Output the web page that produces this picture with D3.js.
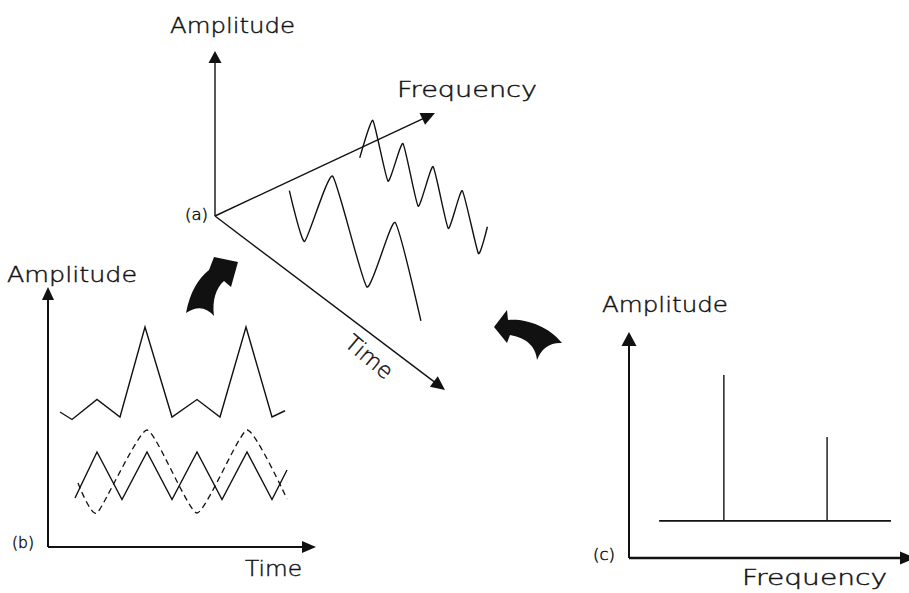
<!DOCTYPE html>
<html><head><meta charset="utf-8">
<script src="https://cdn.jsdelivr.net/npm/d3@7"></script>
<style>html,body{margin:0;padding:0;background:#fff;} svg{display:block}</style>
</head><body><svg id="chart" width="909" height="593"></svg>
<script>
// ================= DATA =================
// Panel (a): 3-D view (frequency / time / amplitude, axis units 0..10)
const aFrontFreq = 3.15;
const aFrontTime = [0.22, 0.88, 2.10, 3.59, 4.81, 5.94];
const aFrontAmp  = [-0.19, -2.57, 2.65, -2.46, 2.70, -2.05];
const aBackFreq  = 7.07;
const aBackTime  = [-0.47, 0.10, 0.76, 1.41, 2.07, 2.72, 3.38, 3.99, 4.69, 5.08];
const aBackAmp   = [-1.38, 1.48, -1.49, 1.46, -1.63, 1.44, -1.59, 1.32, -1.73, 0.29];

// Panel (b): time domain (time 0..10, amplitude 0..100)
const bSumTime  = [0.52, 1.0, 2.0, 2.92, 3.92, 5.0, 6.0, 6.92, 7.96, 9.0, 9.52];
const bSumAmp   = [54, 51, 59, 52, 88, 52, 59, 52, 88, 52, 54.5];
const bHighTime = [1.12, 2, 3, 4, 5, 6, 7, 8, 9, 9.6];
const bHighAmp  = [19.6, 38, 19, 38, 19, 38, 19, 38, 19, 30.8];
const bLowTime  = [1.24, 2, 4, 6, 8, 9.6];
const bLowAmp   = [25.6, 13.6, 46.8, 13.6, 46.8, 19.2];

// Panel (c): frequency domain (frequency 0..10, amplitude 0..10)
const cFreqs      = [3.4, 7.1];
const cAmps       = [8.1, 5.35];
const cFloor      = 1.64;
const cFloorRange = [1.08, 9.39];

// Labels
const panelTags  = ["(a)", "(b)", "(c)"];
const axisTitles = ["Amplitude", "Frequency", "Time"];

// ================= DRAWING =================
const svg = d3.select("#chart");
const ink = "#111";
const font = "'DejaVu Sans ExtraLight', 'DejaVu Sans', sans-serif";

function arrowHead(x1, y1, x2, y2, len, wid) {
  const dx = x2 - x1, dy = y2 - y1, L = Math.hypot(dx, dy);
  const ux = dx / L, uy = dy / L, px = -uy, py = ux;
  const bx = x2 - ux * len, by = y2 - uy * len;
  return `M${x2},${y2}L${bx + px * wid / 2},${by + py * wid / 2}L${bx - px * wid / 2},${by - py * wid / 2}Z`;
}
function arrow(x1, y1, x2, y2, len, wid, sw) {
  const dx = x2 - x1, dy = y2 - y1, L = Math.hypot(dx, dy);
  svg.append("line").attr("x1", x1).attr("y1", y1)
    .attr("x2", x2 - dx / L * len * 0.6).attr("y2", y2 - dy / L * len * 0.6)
    .attr("stroke", ink).attr("stroke-width", sw);
  svg.append("path").attr("d", arrowHead(x1, y1, x2, y2, len, wid)).attr("fill", ink);
}
function label(txt, x, y, w, size, extra) {
  const t = svg.append("text").attr("x", x).attr("y", y).text(txt)
    .attr("font-family", font).attr("font-weight", 200)
    .attr("font-size", size).attr("fill", ink)
    .attr("stroke", ink).attr("stroke-width", 0.45);
  if (w) t.attr("textLength", w).attr("lengthAdjust", "spacingAndGlyphs");
  if (extra) extra(t);
  return t;
}

// ---------- Panel (a) ----------
const O = {x: 215, y: 216};
const ampTipA = {x: 215, y: 51}, freqTipA = {x: 435, y: 113}, timeTipA = {x: 445, y: 390};
const fX = d3.scaleLinear().domain([0, 10]).range([0, freqTipA.x - O.x]);
const fY = d3.scaleLinear().domain([0, 10]).range([0, freqTipA.y - O.y]);
const tX = d3.scaleLinear().domain([0, 10]).range([0, timeTipA.x - O.x]);
const tY = d3.scaleLinear().domain([0, 10]).range([0, timeTipA.y - O.y]);
const aY = d3.scaleLinear().domain([0, 10]).range([0, -166]);
const proj = (f, t, a) => [O.x + fX(f) + tX(t), O.y + fY(f) + tY(t) + aY(a)];

arrow(O.x, O.y, ampTipA.x, ampTipA.y, 12, 13, 1.4);
arrow(O.x, O.y, freqTipA.x, freqTipA.y, 14, 13, 1.4);
arrow(O.x, O.y, timeTipA.x, timeTipA.y, 14, 13, 1.4);

const waveA = d3.line().curve(d3.curveCardinal.tension(0.55));
svg.append("path")
  .attr("d", waveA(aBackTime.map((t, i) => proj(aBackFreq, t, aBackAmp[i]))))
  .attr("fill", "none").attr("stroke", ink).attr("stroke-width", 1.4);
svg.append("path")
  .attr("d", waveA(aFrontTime.map((t, i) => proj(aFrontFreq, t, aFrontAmp[i]))))
  .attr("fill", "none").attr("stroke", ink).attr("stroke-width", 1.4);

label(axisTitles[0], 170, 33, 125, 22);
label(axisTitles[1], 397, 97, 140, 22);
label(axisTitles[2], 0, 0, 55, 22, t => t
  .attr("text-anchor", "middle").attr("dominant-baseline", "central")
  .attr("transform", "translate(369,357) rotate(40)"));
label(panelTags[0], 185, 220, 23, 15);

// ---------- Panel (b) ----------
const bx = d3.scaleLinear().domain([0, 10]).range([47, 297]);
const by = d3.scaleLinear().domain([0, 100]).range([547, 297]);
arrow(bx(0) + 1, by(0), bx(0) + 1, 287, 13, 12, 2);
arrow(bx(0) + 1, by(0), 316, by(0), 14, 12, 2);

const lineB = d3.line();
svg.append("path").attr("d", lineB(bSumTime.map((t, i) => [bx(t), by(bSumAmp[i])])))
  .attr("fill", "none").attr("stroke", ink).attr("stroke-width", 1.4);
svg.append("path").attr("d", lineB(bHighTime.map((t, i) => [bx(t), by(bHighAmp[i])])))
  .attr("fill", "none").attr("stroke", ink).attr("stroke-width", 1.4);
svg.append("path")
  .attr("d", d3.line().curve(d3.curveCardinal.tension(0.5))(bLowTime.map((t, i) => [bx(t), by(bLowAmp[i])])))
  .attr("fill", "none").attr("stroke", ink).attr("stroke-width", 1.3)
  .attr("stroke-dasharray", "6,4");

label(axisTitles[0], 7, 282, 130, 22);
label(axisTitles[2], 245, 576, 57, 22);
label(panelTags[1], 12, 548, 22, 15);

// ---------- Panel (c) ----------
const cx = d3.scaleLinear().domain([0, 10]).range([629, 908]);
const cy = d3.scaleLinear().domain([0, 10]).range([558, 332]);
arrow(cx(0), cy(0), cx(0), 332, 14, 15, 2);
arrow(cx(0), cy(0), 916, cy(0), 16, 13, 2.4);

svg.append("line")
  .attr("x1", cx(cFloorRange[0])).attr("x2", cx(cFloorRange[1]))
  .attr("y1", cy(cFloor)).attr("y2", cy(cFloor))
  .attr("stroke", ink).attr("stroke-width", 1.8);
svg.selectAll(".spike").data(cFreqs).enter().append("line")
  .attr("x1", d => cx(d)).attr("x2", d => cx(d))
  .attr("y1", cy(cFloor)).attr("y2", (d, i) => cy(cAmps[i]))
  .attr("stroke", ink).attr("stroke-width", 1.4);

label(axisTitles[0], 602, 312, 126, 22);
label(axisTitles[1], 742, 585, 145, 22);
label(panelTags[2], 593, 560, 22, 15);

// ---------- Curved transition arrows ----------
svg.append("path")
  .attr("d", "M186,313 C190,292 198,279 209,270 L214,257 L238,262 L231,287 L224,281 C216,288 212,300 214,316 Q202,302 186,313 Z")
  .attr("fill", ink);
svg.append("path")
  .attr("d", "M494,327 L507,310 L508,320 C523,318 548,325 562,343 Q544,342 537,360 C536,348 528,338 510,335 L507,343 Z")
  .attr("fill", ink);
</script>
</body></html>
